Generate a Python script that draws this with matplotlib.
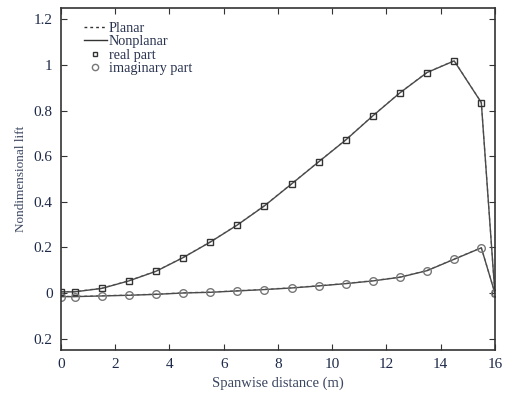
import matplotlib
matplotlib.use("Agg")
import matplotlib.pyplot as plt
from matplotlib.lines import Line2D

plt.rcParams['font.family'] = ['Liberation Serif', 'DejaVu Serif']

span = [0, 0.5, 1.5, 2.5, 3.5, 4.5, 5.5, 6.5, 7.5, 8.5, 9.5, 10.5, 11.5, 12.5, 13.5, 14.5, 15.5, 16]
real_nonplanar = [0.005, 0.005, 0.02, 0.053, 0.095, 0.155, 0.223, 0.298, 0.382, 0.478, 0.575, 0.671, 0.777, 0.878, 0.967, 1.018, 0.835, 0.0]
imag_nonplanar = [-0.016, -0.016, -0.013, -0.01, -0.006, 0.0, 0.003, 0.009, 0.015, 0.022, 0.031, 0.041, 0.053, 0.069, 0.098, 0.148, 0.198, 0.0]
real_planar = [0.006, 0.006, 0.021, 0.054, 0.096, 0.156, 0.224, 0.299, 0.383, 0.479, 0.576, 0.672, 0.778, 0.879, 0.968, 1.019, 0.836, 0.0]
imag_planar = [-0.015, -0.015, -0.012, -0.009, -0.005, 0.001, 0.004, 0.010, 0.016, 0.023, 0.032, 0.042, 0.054, 0.070, 0.099, 0.149, 0.199, 0.0]

xticks = [0, 2, 4, 6, 8, 10, 12, 14, 16]
xticklabels = ['0', '2', '4', '6', '8', '10', '12', '14', '16']
yticks = [-0.2, 0, 0.2, 0.4, 0.6, 0.8, 1.0, 1.2]
yticklabels = ['0.2', '0', '0.2', '0.4', '0.6', '0.8', '1', '1.2']

fig = plt.figure(figsize=(5.06, 3.94), dpi=100)
ax = fig.add_axes([0.1206, 0.1117, 0.8574, 0.868])

lc = '#4a4a4a'
# planar (dashed)
ax.plot(span, real_planar, linestyle=(0, (2, 2.2)), color='#8a8a8a', lw=1.0)
ax.plot(span, imag_planar, linestyle=(0, (2, 2.2)), color='#8a8a8a', lw=1.0)
# nonplanar (solid)
ax.plot(span, real_nonplanar, '-', color=lc, lw=1.0, marker='s', ms=4.5,
        mfc='none', mec='#333333', mew=1.0)
ax.plot(span, imag_nonplanar, '-', color=lc, lw=1.0, marker='o', ms=5.5,
        mfc='none', mec='#777777', mew=1.0)

ax.set_xlim(0, 16)
ax.set_ylim(-0.25, 1.25)
ax.set_xticks(xticks)
ax.set_xticklabels(xticklabels)
ax.set_yticks(yticks)
ax.set_yticklabels(yticklabels)

tick_color = '#1e2a4a'
ax.tick_params(direction='in', length=4, width=0.8, top=True, right=True,
               labelsize=11, colors='#333333', pad=6)
for lab in ax.get_xticklabels() + ax.get_yticklabels():
    lab.set_color(tick_color)
for s in ax.spines.values():
    s.set_color('#333333')
    s.set_linewidth(1.2)

ax.set_xlabel('Spanwise distance (m)', fontsize=10.5, color='#3a4560', labelpad=4)
ax.set_ylabel('Nondimensional lift', fontsize=9.5, color='#3a4560', labelpad=5)

handles = [
    Line2D([], [], linestyle=(0, (2, 2.2)), color='#333333', lw=1.0),
    Line2D([], [], linestyle='-', color='#333333', lw=1.0),
    Line2D([], [], linestyle='none', marker='s', ms=3.5, mfc='none', mec='#333333', mew=1.0),
    Line2D([], [], linestyle='none', marker='o', ms=4.5, mfc='none', mec='#777777', mew=1.0),
]
labels = ['Planar', 'Nonplanar', 'real part', 'imaginary part']
leg = ax.legend(handles, labels, loc='upper left', bbox_to_anchor=(0.053, 0.96),
                frameon=False, fontsize=10.3, handlelength=1.6, handletextpad=0.15,
                labelspacing=0.03, borderaxespad=0.0, borderpad=0.0)
for t in leg.get_texts():
    t.set_color('#2a3450')

fig.savefig('out.png', dpi=100)
